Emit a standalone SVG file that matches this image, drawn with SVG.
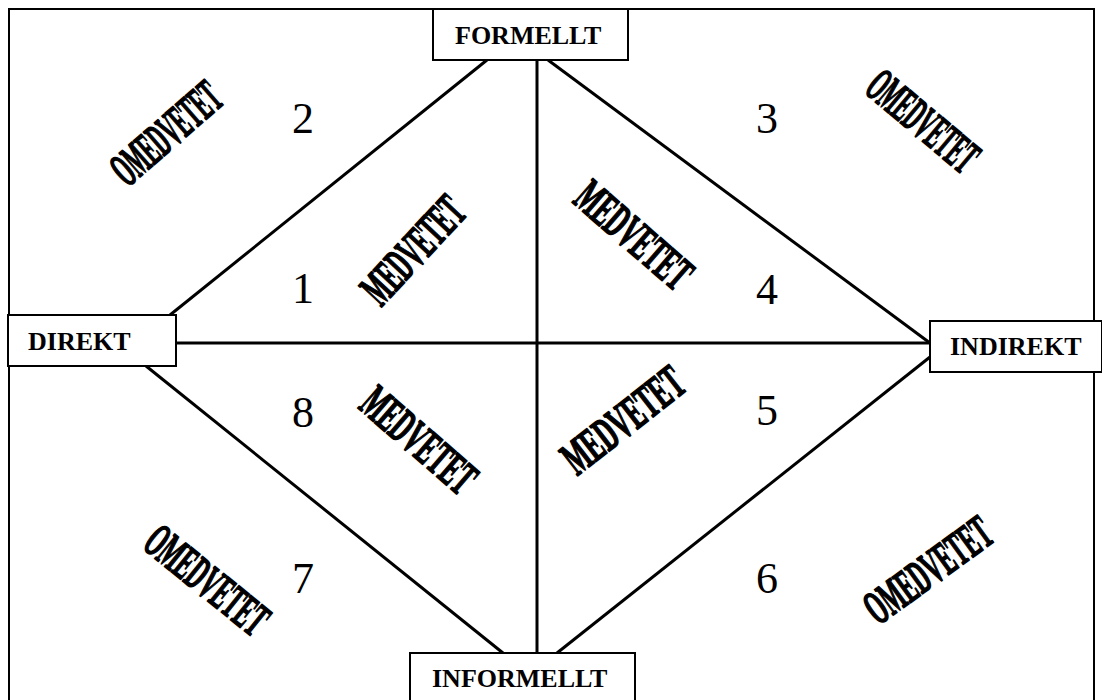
<svg xmlns="http://www.w3.org/2000/svg" width="1102" height="700" viewBox="0 0 1102 700">
<style>
.box{fill:#fff;stroke:#000;stroke-width:2}
.lbl{font-family:"Liberation Serif","Times New Roman",serif;font-weight:bold;font-size:26px;fill:#000}
.num{font-family:"Liberation Serif","Times New Roman",serif;font-size:44px;fill:#000;text-anchor:middle}
.art{font-family:"Liberation Serif","Times New Roman",serif;font-weight:bold;font-size:48px;fill:#000;stroke:#000;stroke-width:1.8;stroke-linejoin:round;text-anchor:middle}
.ln{stroke:#000;stroke-width:3;fill:none}
</style>
<rect x="0" y="0" width="1102" height="700" fill="#fff"/>
<rect x="9" y="9" width="1085" height="700" fill="none" stroke="#000" stroke-width="2"/>
<g id="connectors">
<line class="ln" x1="487" y1="60" x2="170" y2="315"/>
<line class="ln" x1="537" y1="60" x2="537" y2="653"/>
<line class="ln" x1="548" y1="60" x2="930" y2="343"/>
<line class="ln" x1="176" y1="343" x2="930" y2="343"/>
<line class="ln" x1="146" y1="366" x2="503" y2="653"/>
<line class="ln" x1="930" y1="357" x2="557" y2="653"/>
</g>
<g id="formellt"><rect class="box" x="433" y="9" width="195" height="51"/><text class="lbl" x="455" y="44">FORMELLT</text></g>
<g id="direkt"><rect class="box" x="8" y="315" width="168" height="51"/><text class="lbl" x="28" y="350">DIREKT</text></g>
<g id="indirekt"><rect class="box" x="930" y="321" width="172" height="51"/><text class="lbl" x="950" y="355">INDIREKT</text></g>
<g id="informellt"><rect class="box" x="410" y="653" width="225" height="60"/><text class="lbl" x="432" y="687">INFORMELLT</text></g>
<g id="numbers">
<text class="num" x="303" y="133">2</text>
<text class="num" x="767" y="133">3</text>
<text class="num" x="303" y="303">1</text>
<text class="num" x="767" y="304">4</text>
<text class="num" x="303" y="427">8</text>
<text class="num" x="767" y="425">5</text>
<text class="num" x="303" y="593">7</text>
<text class="num" x="767" y="593">6</text>
</g>
<g id="wordart">
<g transform="translate(166,133) rotate(-41)"><text class="art" x="0" y="16" textLength="130" lengthAdjust="spacingAndGlyphs">OMEDVETET</text></g>
<g transform="translate(923,121) rotate(40)"><text class="art" x="0" y="16" textLength="130" lengthAdjust="spacingAndGlyphs">OMEDVETET</text></g>
<g transform="translate(413,250) rotate(-47)"><text class="art" x="0" y="16" textLength="128" lengthAdjust="spacingAndGlyphs">MEDVETET</text></g>
<g transform="translate(634,235) rotate(41)"><text class="art" x="0" y="16" textLength="138" lengthAdjust="spacingAndGlyphs">MEDVETET</text></g>
<g transform="translate(419,440) rotate(41)"><text class="art" x="0" y="16" textLength="136" lengthAdjust="spacingAndGlyphs">MEDVETET</text></g>
<g transform="translate(623,420) rotate(-38)"><text class="art" x="0" y="16" textLength="142" lengthAdjust="spacingAndGlyphs">MEDVETET</text></g>
<g transform="translate(207,580) rotate(39)"><text class="art" x="0" y="16" textLength="144" lengthAdjust="spacingAndGlyphs">OMEDVETET</text></g>
<g transform="translate(928,570) rotate(-36)"><text class="art" x="0" y="16" textLength="146" lengthAdjust="spacingAndGlyphs">OMEDVETET</text></g>
</g>
</svg>
